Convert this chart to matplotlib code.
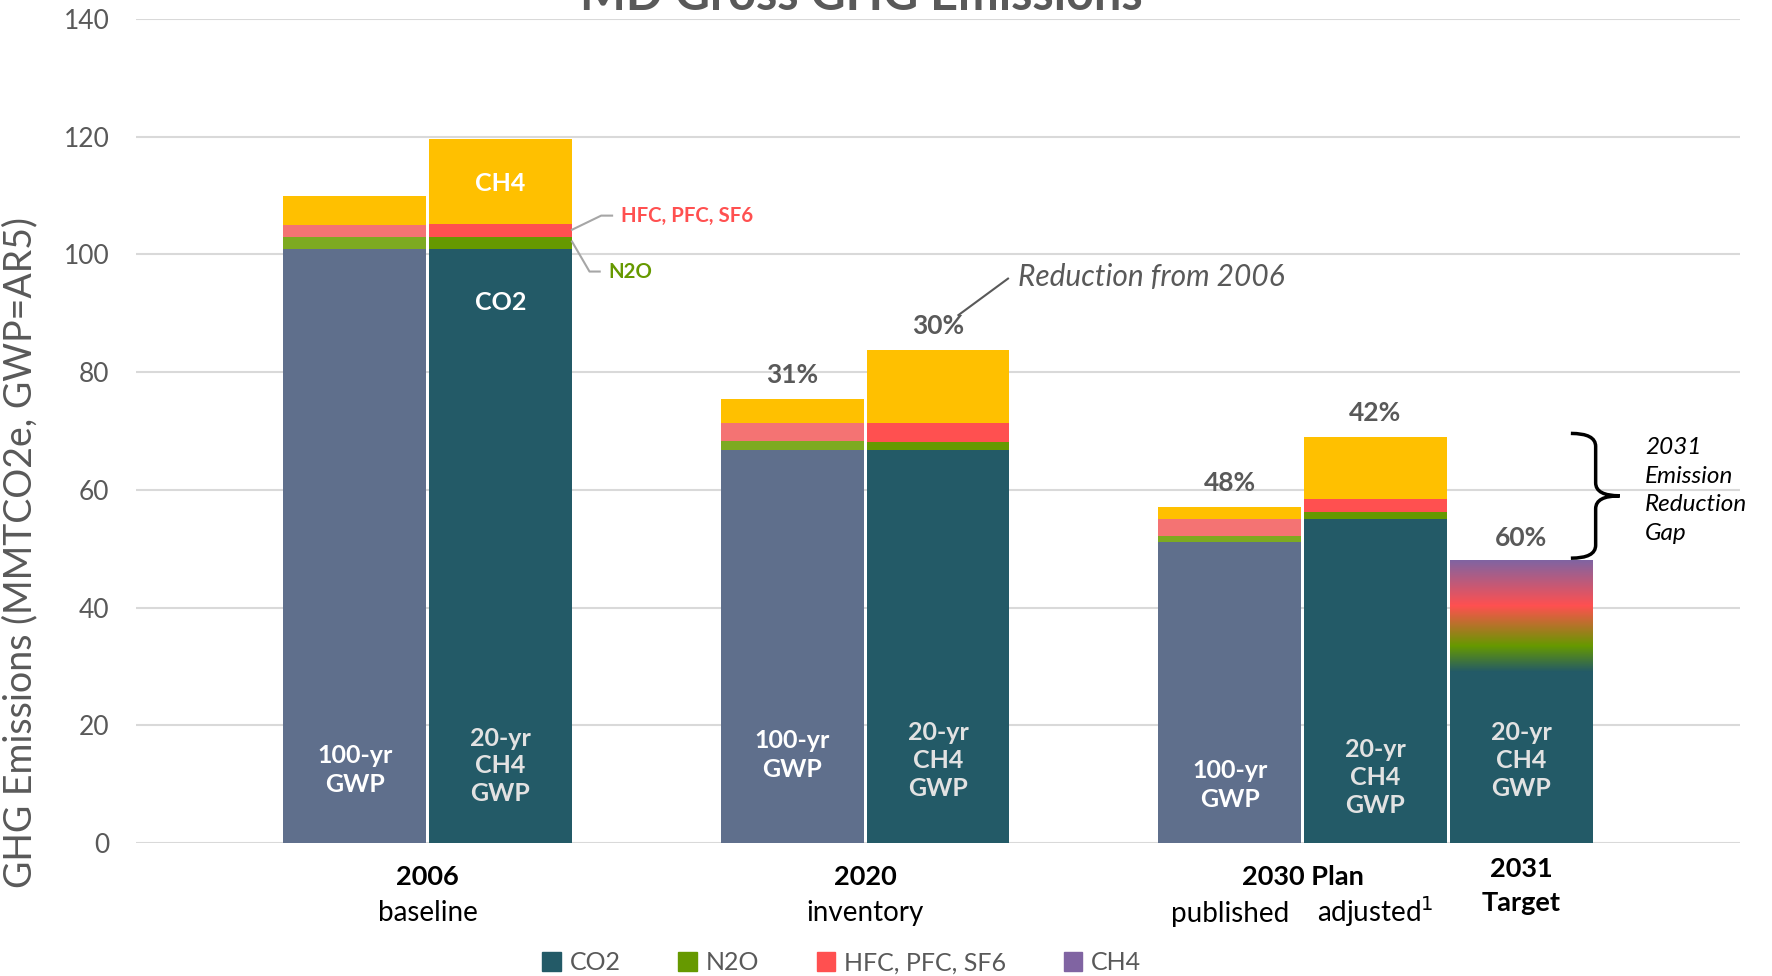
import matplotlib
matplotlib.use("Agg")
import numpy as np
import matplotlib.pyplot as plt
from matplotlib.colors import LinearSegmentedColormap
from matplotlib.path import Path
from matplotlib.patches import PathPatch, Patch

plt.rcParams["font.family"] = ["Lato", "DejaVu Sans"]

# stacked bars: 2006 / 2020 / 2030 plan, each with 100-yr and 20-yr CH4 GWP
bar_group = [0, 0, 1, 1, 2, 2]
bar_member = [0, 1, 0, 1, 0, 1]
bar_gwp = ["100", "20", "100", "20", "100", "20"]
co2 = [101.0, 101.0, 66.8, 66.8, 51.2, 55.0]
n2o = [2.0, 2.0, 1.5, 1.4, 1.0, 1.2]
hfc = [2.0, 2.1, 3.0, 3.1, 2.9, 2.3]
ch4 = [5.0, 14.5, 4.2, 12.5, 2.0, 10.5]
pct_labels = ["", "", "31%", "30%", "48%", "42%"]

# 2031 target bar (gas split not given, drawn as a blend)
target_total = 47.9
target_co2 = 29.0
target_pct = "60%"
blend_levels = [29.0, 33.4, 40.2, 47.9]

legend_names = ["CO2", "N2O", "HFC, PFC, SF6", "CH4"]

GRAY = "#595959"
c_co2 = {"100": "#5F6F8C", "20": "#235A67"}
c_n2o = {"100": "#7DAA21", "20": "#669900"}
c_hfc = {"100": "#F47373", "20": "#FF5050"}
c_ch4 = "#FFC000"
blend_colors = ["#235A67", "#669900", "#FF5050", "#8064A2"]

W = 0.98

fig = plt.figure(figsize=(17.72, 9.76), dpi=100)
ax = fig.add_axes([0.07675, 0.1362, 0.9052, 0.8443])

xs = [3 * g + m for g, m in zip(bar_group, bar_member)]
bottom = np.zeros(len(xs))
for vals, cols in [(co2, c_co2), (n2o, c_n2o), (hfc, c_hfc)]:
    ax.bar(xs, vals, W, bottom=bottom, color=[cols[k] for k in bar_gwp], zorder=2)
    bottom += np.array(vals)
ax.bar(xs, ch4, W, bottom=bottom, color=c_ch4, zorder=2)
totals = bottom + np.array(ch4)

# target bar
xt = 3 * 2 + 2
ax.bar([xt], [target_co2], W, color=c_co2["20"], zorder=2)
stops = (np.array(blend_levels) - blend_levels[0]) / (blend_levels[-1] - blend_levels[0])
cmap = LinearSegmentedColormap.from_list("blend", list(zip(stops, blend_colors)))
ax.imshow(np.linspace(0, 1, 256).reshape(-1, 1), cmap=cmap, origin="lower", aspect="auto",
          extent=[xt - W / 2, xt + W / 2, blend_levels[0], target_total], zorder=2)

# percent labels
for x, t, lab in zip(xs, totals, pct_labels):
    if lab:
        ax.annotate(lab, (x, t), xytext=(0, 17), textcoords="offset points", ha="center",
                    va="center", fontsize=19, fontweight="bold", color=GRAY)
ax.annotate(target_pct, (xt, target_total), xytext=(0, 17), textcoords="offset points",
            ha="center", va="center", fontsize=19, fontweight="bold", color=GRAY)

# labels inside bars
label_y = [12.4, 13.1, 15.0, 14.0, 9.9, 11.1]
for x, g, y in zip(xs, bar_gwp, label_y):
    if g == "100":
        ax.text(x, y, "100-yr\nGWP", ha="center", va="center", fontsize=18,
                fontweight="bold", color="white", linespacing=1.3, zorder=3)
    else:
        ax.text(x, y, "20-yr\nCH4\nGWP", ha="center", va="center", fontsize=18,
                fontweight="bold", color="#E2E2E2", linespacing=1.25, zorder=3)
ax.text(xt, 14.0, "20-yr\nCH4\nGWP", ha="center", va="center", fontsize=18,
        fontweight="bold", color="#E2E2E2", linespacing=1.25, zorder=3)
ax.text(1, 112.1, "CH4", ha="center", va="center", fontsize=18, fontweight="bold",
        color="white", zorder=3)
ax.text(1, 91.8, "CO2", ha="center", va="center", fontsize=18, fontweight="bold",
        color="white", zorder=3)

# gas callouts on 2006 bar
ax.plot([1.49, 1.69, 1.765], [104.2, 106.6, 106.6], color="#A6A6A6", lw=1.5, zorder=3,
        clip_on=False)
ax.text(1.827, 106.6, "HFC, PFC, SF6", ha="left", va="center", fontsize=14.7,
        fontweight="bold", color="#FF5050")
ax.plot([1.49, 1.61, 1.68], [102.2, 97.1, 97.1], color="#A6A6A6", lw=1.5, zorder=3)
ax.text(1.742, 97.1, "N2O", ha="left", va="center", fontsize=14.7, fontweight="bold",
        color="#669900")

# "Reduction from 2006"
ax.plot([4.14, 4.48], [89.7, 95.9], color=GRAY, lw=1.5, zorder=3)
ax.text(4.55, 96.2, "Reduction from 2006", ha="left", va="center", fontsize=21.5,
        style="italic", color=GRAY)

# bracket for the gap
yt, yb = totals[-1] + 0.6, target_total + 0.5
ym = (yt + yb) / 2
x0, xm, xp = 8.34, 8.51, 8.675
r = 2.2
verts = [(x0, yt), (xm, yt), (xm, yt - r), (xm, ym + r), (xm, ym), (xp, ym),
         (xm, ym), (xm, ym - r), (xm, yb + r), (xm, yb), (x0, yb)]
codes = [Path.MOVETO, Path.CURVE3, Path.CURVE3, Path.LINETO, Path.CURVE3, Path.CURVE3,
         Path.CURVE3, Path.CURVE3, Path.LINETO, Path.CURVE3, Path.CURVE3]
ax.add_patch(PathPatch(Path(verts, codes), fill=False, lw=2.5, color="black",
                       clip_on=False, zorder=3))
ax.text(8.85, 59.9, "2031\nEmission\nReduction\nGap", ha="left", va="center",
        fontsize=17.5, style="italic", color="black", linespacing=1.45, clip_on=False)

# category labels
ax.text(0.5, -7.1, "2006", ha="center", va="baseline", fontsize=19.5, fontweight="bold")
ax.text(0.5, -13.2, "baseline", ha="center", va="baseline", fontsize=20)
ax.text(3.5, -7.1, "2020", ha="center", va="baseline", fontsize=19.5, fontweight="bold")
ax.text(3.5, -13.2, "inventory", ha="center", va="baseline", fontsize=20)
ax.text(6.5, -7.1, "2030 Plan", ha="center", va="baseline", fontsize=19.5, fontweight="bold")
ax.text(6, -13.4, "published", ha="center", va="baseline", fontsize=20)
ax.text(7, -13.4, "adjusted$^1$", ha="center", va="baseline", fontsize=20)
ax.text(8, -5.7, "2031", ha="center", va="baseline", fontsize=19.5, fontweight="bold")
ax.text(8, -11.6, "Target", ha="center", va="baseline", fontsize=19.5, fontweight="bold")

ax.set_xlim(-1.5, 9.5)
ax.set_ylim(0, 140)
ax.set_yticks(np.arange(0, 141, 20))
ax.set_xticks([])
ax.grid(axis="y", color="#D9D9D9", lw=1.5, zorder=0)
ax.set_axisbelow(True)
for s in ax.spines.values():
    s.set_visible(False)
ax.tick_params(axis="y", length=0, pad=19, labelsize=19, labelcolor=GRAY)
ax.set_ylabel("GHG Emissions (MMTCO2e, GWP=AR5)", fontsize=27, color=GRAY)
ax.yaxis.set_label_coords(-0.061, 0.353)

fig.text(0.486, 0.9898, "MD Gross GHG Emissions", ha="center", va="baseline",
         fontsize=35, fontweight="bold", color=GRAY)

handles = [Patch(color=c) for c in ["#235A67", "#669900", "#FF5050", "#8064A2"]]
fig.legend(handles, legend_names, loc="center", bbox_to_anchor=(0.475, 0.0136), ncol=4,
           frameon=False, fontsize=18, labelcolor=GRAY, handlelength=0.75,
           handleheight=0.75, handletextpad=0.35, columnspacing=2.3)

fig.savefig("out.png", dpi=100)
